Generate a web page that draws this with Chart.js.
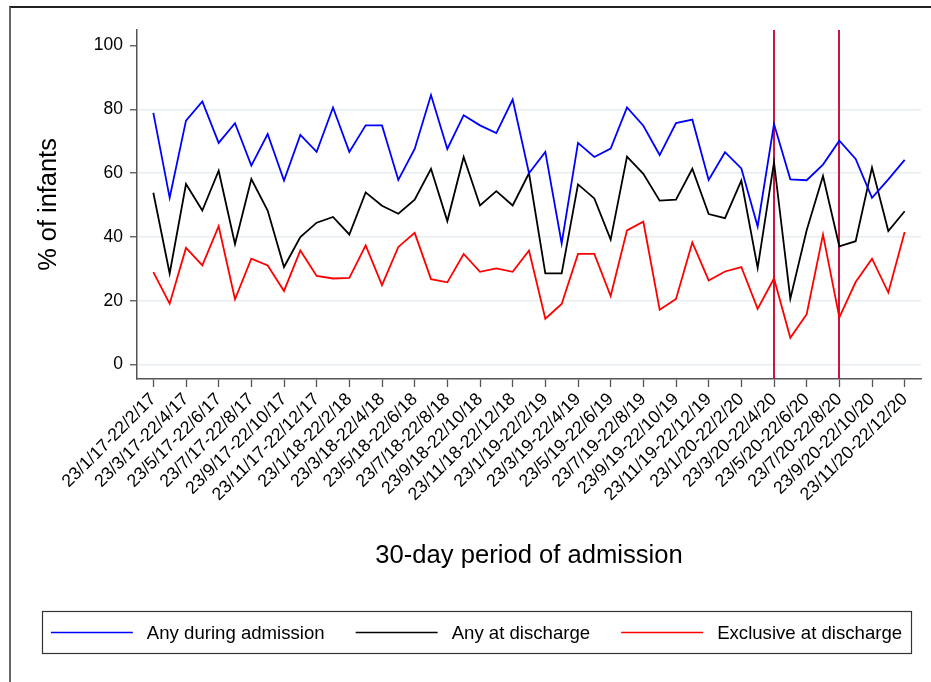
<!DOCTYPE html>
<html>
<head>
<meta charset="utf-8">
<script src="https://cdn.jsdelivr.net/npm/chart.js@4.4.1/dist/chart.umd.min.js"></script>
<style>
  html, body { margin: 0; padding: 0; background: #fff; }
  #wrap { position: relative; width: 931px; height: 682px; overflow: hidden; }
  #frame { position: absolute; left: 9px; top: 6px; width: 940px; height: 700px;
           border-top: 2px solid #222; border-left: 2px solid #666; box-sizing: border-box; }
  canvas { position: absolute; left: 0; top: 0; }
</style>
</head>
<body>
<div id="wrap">
  <div id="frame"></div>
  <canvas id="c" width="931" height="682"></canvas>
</div>
<script>
// 30-day periods of admission
const periods = [
  "23/1/17-22/2/17","23/2/17-22/3/17","23/3/17-22/4/17","23/4/17-22/5/17",
  "23/5/17-22/6/17","23/6/17-22/7/17","23/7/17-22/8/17","23/8/17-22/9/17",
  "23/9/17-22/10/17","23/10/17-22/11/17","23/11/17-22/12/17","23/12/17-22/1/18",
  "23/1/18-22/2/18","23/2/18-22/3/18","23/3/18-22/4/18","23/4/18-22/5/18",
  "23/5/18-22/6/18","23/6/18-22/7/18","23/7/18-22/8/18","23/8/18-22/9/18",
  "23/9/18-22/10/18","23/10/18-22/11/18","23/11/18-22/12/18","23/12/18-22/1/19",
  "23/1/19-22/2/19","23/2/19-22/3/19","23/3/19-22/4/19","23/4/19-22/5/19",
  "23/5/19-22/6/19","23/6/19-22/7/19","23/7/19-22/8/19","23/8/19-22/9/19",
  "23/9/19-22/10/19","23/10/19-22/11/19","23/11/19-22/12/19","23/12/19-22/1/20",
  "23/1/20-22/2/20","23/2/20-22/3/20","23/3/20-22/4/20","23/4/20-22/5/20",
  "23/5/20-22/6/20","23/6/20-22/7/20","23/7/20-22/8/20","23/8/20-22/9/20",
  "23/9/20-22/10/20","23/10/20-22/11/20","23/11/20-22/12/20"
];
const anyDuringAdmission = [
  78.9, 52.3, 76.5, 82.5, 69.5, 75.7, 62.4, 72.3, 57.7, 72.0, 66.7, 80.6,
  66.7, 75.0, 75.0, 57.9, 67.6, 84.5, 67.6, 78.2, 75.0, 72.6, 83.1, 60.0,
  66.7, 38.0, 69.5, 65.1, 67.7, 80.6, 74.9, 65.7, 75.7, 76.8, 57.9, 66.6,
  61.5, 43.3, 75.4, 58.1, 57.8, 62.7, 70.2, 64.5, 52.3, 58.1, 64.2
];
const anyAtDischarge = [
  53.9, 28.6, 56.6, 48.3, 60.8, 37.8, 58.2, 48.3, 30.6, 40.0, 44.5, 46.3,
  40.8, 54.0, 49.8, 47.3, 51.7, 61.4, 45.0, 65.1, 49.9, 54.4, 49.9, 60.0,
  28.6, 28.6, 56.5, 52.1, 39.2, 65.2, 59.8, 51.4, 51.7, 61.4, 47.2, 45.9,
  57.7, 30.3, 63.4, 20.7, 42.1, 59.1, 37.1, 38.7, 61.8, 41.9, 48.1
];
const exclusiveAtDischarge = [
  29.0, 19.1, 36.6, 31.1, 43.4, 20.5, 33.2, 31.1, 23.1, 35.8, 27.8, 27.0,
  27.2, 37.4, 24.9, 36.9, 41.3, 26.8, 25.8, 34.7, 29.1, 30.2, 29.1, 35.8,
  14.4, 19.0, 34.7, 34.7, 21.5, 42.1, 44.8, 17.2, 20.6, 38.3, 26.4, 29.2,
  30.6, 17.5, 27.0, 8.4, 15.8, 40.8, 14.8, 25.9, 33.2, 22.6, 41.6
];
const yTicks = [0, 20, 40, 60, 80, 100];
const xTickStep = 2;              // every second period is labelled
const markedPeriods = [38, 42];   // vertical reference lines

const FONT = '"Liberation Sans", Arial, Helvetica, sans-serif';
const toPoints = arr => arr.map((v, i) => ({ x: i, y: v }));

const markLines = {
  id: 'markLines',
  beforeDatasetsDraw(chart) {
    const { ctx, chartArea: { top, bottom }, scales: { x } } = chart;
    ctx.save();
    ctx.strokeStyle = '#c8163c';
    ctx.lineWidth = 2;
    markedPeriods.forEach(i => {
      const px = Math.round(x.getPixelForValue(i));
      ctx.beginPath();
      ctx.moveTo(px, top);
      ctx.lineTo(px, bottom);
      ctx.stroke();
    });
    ctx.restore();
  }
};

const boxedLegend = {
  id: 'boxedLegend',
  afterDraw(chart) {
    const ctx = chart.ctx;
    ctx.save();
    const bx = 42, by = 611, bw = 869, bh = 42;
    ctx.strokeStyle = '#333';
    ctx.lineWidth = 1.2;
    ctx.strokeRect(bx + 0.5, by + 0.5, bw, bh);
    ctx.font = '18.6px ' + FONT;
    const sample = 82, gap = 14, itemGap = 31;
    const items = chart.data.datasets.map(d => ({
      label: d.label, color: d.borderColor, w: ctx.measureText(d.label).width
    }));
    const total = items.reduce((s, it) => s + sample + gap + it.w, 0) + itemGap * (items.length - 1);
    let x = bx + (bw - total) / 2;
    const cy = by + bh / 2 + 0.5;
    items.forEach(it => {
      ctx.strokeStyle = it.color;
      ctx.lineWidth = 1.7;
      ctx.beginPath();
      ctx.moveTo(x, cy);
      ctx.lineTo(x + sample, cy);
      ctx.stroke();
      x += sample + gap;
      ctx.fillStyle = '#000';
      ctx.textBaseline = 'middle';
      ctx.textAlign = 'left';
      ctx.fillText(it.label, x, cy + 1);
      x += it.w + itemGap;
    });
    ctx.restore();
  }
};

new Chart(document.getElementById('c'), {
  type: 'line',
  data: {
    datasets: [
      { label: 'Any during admission', data: toPoints(anyDuringAdmission), borderColor: '#0000ff' },
      { label: 'Any at discharge', data: toPoints(anyAtDischarge), borderColor: '#000000' },
      { label: 'Exclusive at discharge', data: toPoints(exclusiveAtDischarge), borderColor: '#ff0000' }
    ]
  },
  options: {
    responsive: false,
    animation: false,
    devicePixelRatio: 1,
    elements: {
      line: { borderWidth: 1.8, tension: 0, fill: false },
      point: { radius: 0, hoverRadius: 0 }
    },
    layout: { padding: { left: 0, top: 30, right: 10, bottom: 0 } },
    plugins: { legend: { display: false }, tooltip: { enabled: false } },
    scales: {
      x: {
        type: 'linear',
        min: -1, max: periods.length,
        afterBuildTicks(scale) {
          scale.ticks = periods.map((p, i) => i).filter(i => i % xTickStep === 0).map(v => ({ value: v }));
        },
        afterFit(scale) { scale.height = 303; },
        ticks: {
          autoSkip: false, minRotation: 45, maxRotation: 45,
          color: '#000', padding: 2,
          font: { family: FONT, size: 17.8 },
          callback: v => periods[v]
        },
        grid: { drawOnChartArea: false, tickLength: 8, tickColor: '#555', tickWidth: 1.3 },
        border: { color: '#555', width: 1.5 },
        title: {
          display: true, text: '30-day period of admission', color: '#000',
          font: { family: FONT, size: 25.6 }, padding: { top: 0, bottom: 111 }
        }
      },
      y: {
        min: -4.5, max: 104.9,
        afterBuildTicks(scale) { scale.ticks = yTicks.map(v => ({ value: v })); },
        afterFit(scale) { scale.width = 137; },
        ticks: { color: '#000', padding: 7, font: { family: FONT, size: 17.5 } },
        grid: {
          color: c => (c.tick && c.tick.value === yTicks[yTicks.length - 1]) ? 'rgba(0,0,0,0)' : '#e6eef2',
          lineWidth: 1.5, tickLength: 7, tickColor: '#555', tickWidth: 1.3
        },
        border: { color: '#555', width: 1.5 },
        title: {
          display: true, text: '% of infants', color: '#000',
          font: { family: FONT, size: 25.4 }, padding: { top: 34, bottom: 0 }
        }
      }
    }
  },
  plugins: [markLines, boxedLegend]
});
</script>
</body>
</html>
